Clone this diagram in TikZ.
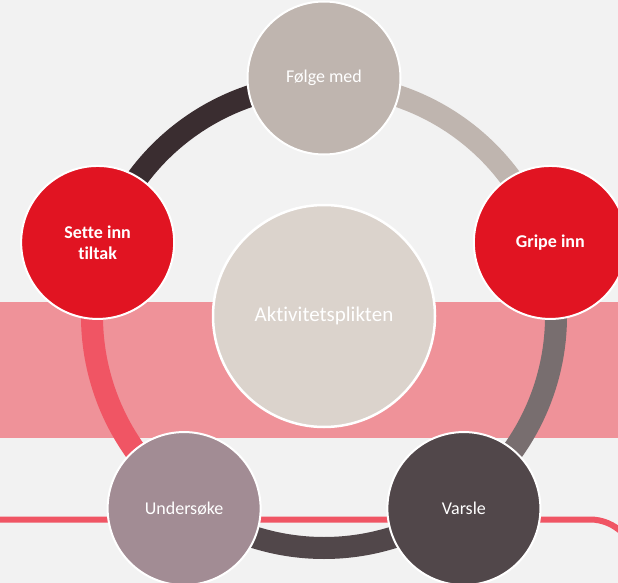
\documentclass[tikz,border=0pt]{standalone}
\usepackage{fontspec}
\setmainfont{Carlito}[Ligatures={NoCommon,NoContextual}]
\usepackage{tikz}
\definecolor{bggrey}{HTML}{F2F2F2}
\definecolor{bandpink}{HTML}{EF9299}
\definecolor{linered}{HTML}{F05564}
\definecolor{folgecol}{HTML}{BFB5AF}
\definecolor{gripecol}{HTML}{E11422}
\definecolor{varslecol}{HTML}{51474A}
\definecolor{undersokecol}{HTML}{A28C94}
\definecolor{hubcol}{HTML}{DBD3CC}
\definecolor{greyarc}{HTML}{786E6F}
\definecolor{darkarc}{HTML}{3A2D30}
\tikzstyle{phase} = [circle,draw=white,line width=2pt,minimum size=153pt,inner sep=0pt,text=white,align=center,font=\fontsize{18}{21}\selectfont]
\tikzstyle{boldphase} = [phase,font=\fontsize{18}{21}\selectfont\bfseries]
\tikzstyle{ring} = [line width=22pt]

\begin{document}
\begin{tikzpicture}[x=1pt,y=-1pt]
	\useasboundingbox (0,0) rectangle (618,583);
	\fill[bggrey] (0,0) rectangle (618,583);
	\fill[bandpink] (0,302) rectangle (618,438);
	\begin{scope}
		\clip (0,0) rectangle (618,583);
		\draw[linered,line width=6pt,rounded corners=46pt] (0,519.5) -- (636,519.5) -- (636,700);
	\end{scope}
	\coordinate (mid) at (324,316);
	% ring segments
	\draw[ring,folgecol] ([shift={(mid)}]-90:232) arc[start angle=-90,end angle=-18,radius=232];
	\draw[ring,greyarc] ([shift={(mid)}]-18:232) arc[start angle=-18,end angle=54,radius=232];
	\draw[ring,varslecol] ([shift={(mid)}]54:232) arc[start angle=54,end angle=126,radius=232];
	\draw[ring,linered] ([shift={(mid)}]126:232) arc[start angle=126,end angle=198,radius=232];
	\draw[ring,darkarc] ([shift={(mid)}]198:232) arc[start angle=198,end angle=270,radius=232];
	% circles
	\node[circle,draw=white,line width=2.5pt,minimum size=222pt,fill=hubcol,text=white,font=\fontsize{21}{24}\selectfont] (hub) at (mid) {Aktivitetsplikten};
	\node[phase,fill=folgecol] (folge) at ([shift={(mid)}]-90:238) {Følge med};
	\node[boldphase,fill=gripecol] (gripe) at ([shift={(mid)}]-18:238) {Gripe inn};
	\node[phase,fill=varslecol] (varsle) at ([shift={(mid)}]54:238) {Varsle};
	\node[phase,fill=undersokecol] (undersoke) at ([shift={(mid)}]126:238) {Undersøke};
	\node[boldphase,fill=gripecol] (sette) at ([shift={(mid)}]198:238) {Sette inn\\tiltak};
\end{tikzpicture}
\end{document}
